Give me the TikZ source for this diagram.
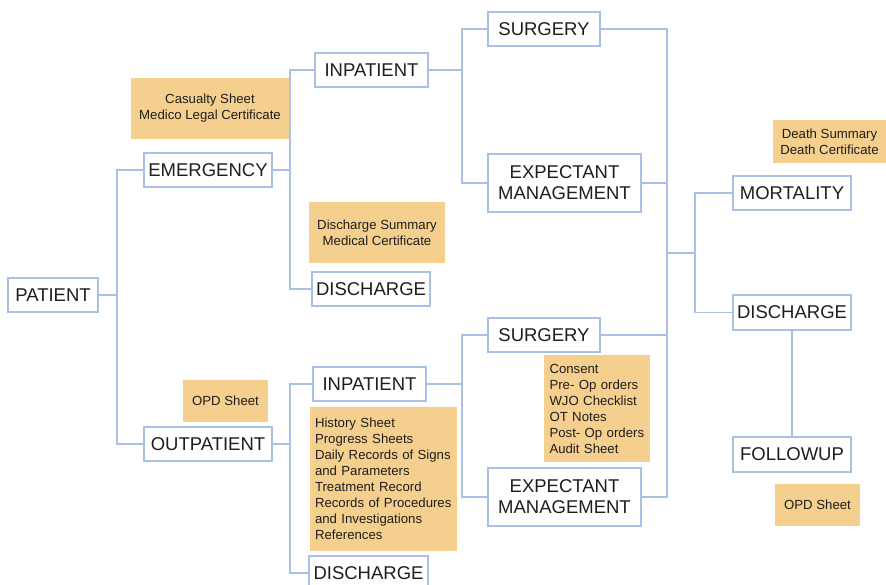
\documentclass[tikz,border=0pt]{standalone}
\usepackage{fontspec}
\setmainfont{Liberation Sans}
\definecolor{lineblue}{RGB}{170,192,228}
\definecolor{noteorange}{RGB}{245,207,142}
\definecolor{txt}{RGB}{30,30,30}
\begin{document}
\begin{tikzpicture}[x=1pt,y=-1pt,
  box/.style={draw=lineblue,line width=1.3pt,fill=white,inner sep=0pt,text=txt,
    font=\fontsize{18.5}{21}\selectfont,align=center},
  note/.style={fill=noteorange,inner sep=0pt,text=txt,
    font=\fontsize{13.2}{16}\selectfont},
  conn/.style={draw=lineblue,line width=1.3pt}]
\useasboundingbox (0,0) rectangle (886,584);
% notes
\node[note,minimum width=158pt,minimum height=61pt,align=center] (n1) at (210,108.5) {Casualty Sheet\\Medico Legal Certificate};
\node[note,minimum width=136pt,minimum height=61pt,align=center] (n2) at (377,232.5) {Discharge Summary\\Medical Certificate};
\node[note,minimum width=113pt,minimum height=43pt,align=center] (n3) at (829.5,141.5) {Death Summary\\Death Certificate};
\node[note,minimum width=85pt,minimum height=42pt,align=center] (n4) at (225.5,401) {OPD Sheet};
\node[note,minimum width=85pt,minimum height=42pt,align=center] (n5) at (817.5,505) {OPD Sheet};
\node[note,minimum width=147pt,minimum height=144pt,align=left,text width=137pt] (n6) at (383.5,479) {History Sheet\\Progress Sheets\\Daily Records of Signs\\and Parameters\\Treatment Record\\Records of Procedures\\and Investigations\\References};
\node[note,minimum width=106pt,minimum height=107pt,align=left,text width=95pt] (n7) at (597,408.5) {Consent\\Pre- Op orders\\WJO Checklist\\OT Notes\\Post- Op orders\\Audit Sheet};
% boxes
\node[box,minimum width=90pt,minimum height=34pt] (patient) at (53,295) {PATIENT};
\node[box,minimum width=128pt,minimum height=34pt] (emerg) at (208,170) {EMERGENCY};
\node[box,minimum width=128pt,minimum height=34pt] (outp) at (208,444) {OUTPATIENT};
\node[box,minimum width=113pt,minimum height=34pt] (inp1) at (371.5,70) {INPATIENT};
\node[box,minimum width=118pt,minimum height=34pt] (dis1) at (371,289) {DISCHARGE};
\node[box,minimum width=113pt,minimum height=34pt] (inp2) at (369.5,384) {INPATIENT};
\node[box,minimum width=119pt,minimum height=34pt] (dis2) at (368.5,573) {DISCHARGE};
\node[box,minimum width=112pt,minimum height=34pt] (surg1) at (544,29) {SURGERY};
\node[box,minimum width=153pt,minimum height=58pt] (exp1) at (564.5,183) {EXPECTANT\\MANAGEMENT};
\node[box,minimum width=112pt,minimum height=34pt] (surg2) at (544,335) {SURGERY};
\node[box,minimum width=153pt,minimum height=58pt] (exp2) at (564.5,497) {EXPECTANT\\MANAGEMENT};
\node[box,minimum width=118pt,minimum height=34pt] (mort) at (792,193) {MORTALITY};
\node[box,minimum width=118pt,minimum height=35pt] (dis3) at (792,312.5) {DISCHARGE};
\node[box,minimum width=118pt,minimum height=35pt] (fol) at (792,454.5) {FOLLOWUP};
% bus points
\coordinate (b1) at (117,295);
\coordinate (b2) at (290,170);
\coordinate (b3) at (462,70);
\coordinate (b4) at (667,253);
\coordinate (b5) at (695,253);
\coordinate (b6) at (290,444);
\coordinate (b7) at (462,384);
% connectors
\begin{scope}[on background layer/.style={}]
\draw[conn] (patient.east) -- (b1);
\draw[conn] (emerg.west) -| (b1);
\draw[conn] (outp.west) -| (b1);
\draw[conn] (emerg.east) -- (b2);
\draw[conn] (inp1.west) -| (b2);
\draw[conn] (dis1.west) -| (b2);
\draw[conn] (inp1.east) -- (b3);
\draw[conn] (surg1.west) -| (b3);
\draw[conn] (exp1.west) -| (b3);
\draw[conn] (outp.east) -- (b6);
\draw[conn] (inp2.west) -| (b6);
\draw[conn] (dis2.west) -| (b6);
\draw[conn] (inp2.east) -- (b7);
\draw[conn] (surg2.west) -| (b7);
\draw[conn] (exp2.west) -| (b7);
\draw[conn] (surg1.east) -| (b4);
\draw[conn] (exp1.east) -| (b4);
\draw[conn] (surg2.east) -| (b4);
\draw[conn] (exp2.east) -| (b4);
\draw[conn] (b4) -- (b5);
\draw[conn] (mort.west) -| (b5);
\draw[conn] (dis3.west) -| (b5);
\draw[conn] (dis3.south) -- (fol.north);
\end{scope}
\end{tikzpicture}
\end{document}
